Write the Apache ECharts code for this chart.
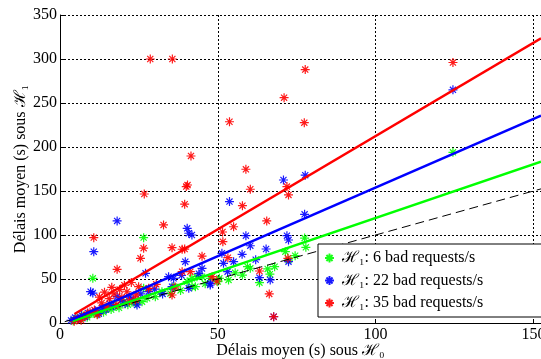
<!DOCTYPE html>
<html><head><meta charset="utf-8">
<script src="https://cdn.jsdelivr.net/npm/echarts@6/dist/echarts.min.js"></script>
<style>html,body{margin:0;padding:0;background:#fff}#c{width:541px;height:359px}</style>
</head><body><div id="c"></div>
<script>
const xTicks = [0, 50, 100, 150];
const yTicks = [0, 50, 100, 150, 200, 250, 300, 350];
const seriesNames = ['ℋ₁: 6 bad requests/s', 'ℋ₁: 22 bad requests/s', 'ℋ₁: 35 bad requests/s'];

const greenPts = [[4.2,2.5],[5.4,5.3],[6.5,4.8],[7.3,7.9],[8.6,6.4],[9.4,9.8],[10.7,11],[11.8,10.2],[12.6,13.5],[13.8,12.1],[14.9,16.7],[16.2,15.3],[17.5,18.9],[18.7,17.2],[20.2,24.2],[21.5,20.8],[22.8,23.5],[24.1,22.3],[26,24.2],[27.6,28],[30.2,29.9],[32.3,35.6],[26.5,39.4],[36,41.3],[40.3,47],[43.4,52.6],[41.8,41.3],[41.8,50.8],[42.9,41.3],[45,52.6],[47.6,50.8],[50.5,50.8],[53.4,48.9],[57.8,54.5],[59.4,64],[60.3,62.2],[63.2,45.8],[65.8,61.4],[71.4,81],[72.4,71.5],[77.5,96.5],[77.9,86],[10.4,50.8],[26.5,97],[124.5,194],[35,33.5],[38.2,37],[46,44.5],[55.5,57],[68,64],[74.5,76.5],[50,47],[66.5,55.5]];

const bluePts = [[3.5,3],[4.8,6.2],[5.9,4.5],[6.8,8.8],[7.9,6.9],[8.8,11.5],[9.7,35.6],[10.4,34],[10.7,81],[11.2,13.8],[12.3,10.6],[13.4,17.5],[14.6,15.2],[15.8,21.6],[17,19.3],[18.1,30],[18.1,116],[19.3,25.4],[20.6,22],[22,29.5],[23.2,27],[24.4,20.5],[25.6,33],[27.1,56.5],[28.1,35.6],[30,38.5],[32.5,33],[34.4,52.6],[35.5,41.3],[36,50.8],[38.5,54],[39.7,69.7],[40.3,107.6],[40.8,102],[41.8,100],[40.8,39.4],[45,62],[47.6,43.2],[47.6,45.1],[51.3,79.2],[51.8,67.8],[53.1,58.3],[53.7,138],[55,69.7],[57.7,78],[58.9,99.2],[60.3,87.8],[63.2,51.5],[65.3,84.1],[66.6,48.9],[67.7,7.2],[70.8,162.5],[71.9,99.2],[72.4,94.3],[72.4,69.7],[77.5,123.5],[77.7,168],[124.5,265],[44,56],[62,72]];

const redPts = [[4.5,2],[5.6,4.2],[6.7,3.1],[7.6,7.5],[8.5,9.6],[9.5,12.4],[10.7,97],[10.9,14.8],[11.8,9.3],[12.5,29.5],[13.2,22.8],[14.1,35],[14.8,18.2],[15.6,27.6],[16.4,40.5],[17.1,33],[18.1,61],[18,21],[18.9,38],[19.6,29.2],[20.4,43],[21.2,35.5],[22,25],[22.6,46],[23.9,26.1],[24.1,32],[24.9,41.3],[25.5,73.5],[26.5,85],[26.7,146.6],[28.1,39.4],[28.6,300],[30.5,44],[32.8,111.4],[35.5,31.8],[36.5,41],[35.5,85.6],[35.6,300],[38.7,83.8],[39.5,84],[38.7,58.3],[41.3,58.3],[39.5,135],[40.4,156.8],[40,155],[41.5,189.8],[45,75.9],[48.2,52.6],[49.7,47.7],[51.5,103.4],[51.6,92.4],[53.2,74.2],[53.7,228.7],[55,109.4],[57.8,133.3],[58.9,174.7],[60.3,152],[63.2,59.1],[65.5,116],[66.3,33],[67.7,7.2],[71,256],[71.9,155],[72.4,145.5],[72.2,73.5],[77.4,227.6],[77.7,288],[124.5,296]];

// fitted lines: [slope, intercept, startX]
const greenFit = [1.22, -2.7, 4.0];
const blueFit = [1.56, -2.0, 3.2];
const redFit = [2.12, 0.5, 4.6];
const refLine = [1.0, 0.0, 1.5];
const xMax = 152.4;

function fitLine(f) { return [[f[2], f[0]*f[2]+f[1]], [xMax, f[0]*xMax+f[1]]]; }

const FONT = "'Liberation Serif','DejaVu Serif',serif";
const STAR = 'path://M5,0L5,10M0,5L10,5M1.6,1.6L8.4,8.4M1.6,8.4L8.4,1.6';
const colors = ['#00ff00', '#0000ff', '#ff0000'];

function scatter(name, pts, c) {
  return {
    type: 'scatter', name: name, data: pts, symbol: STAR, symbolSize: 9,
    itemStyle: { color: 'rgba(0,0,0,0)', borderColor: c, borderWidth: 1.2, opacity: 0.9 },
    emphasis: { disabled: true }, z: 2
  };
}
function line(pts, c, w, dash) {
  return {
    type: 'line', data: pts, showSymbol: false, symbol: 'none', silent: true,
    lineStyle: { color: c, width: w, type: dash || 'solid' }, z: 3
  };
}

const chart = echarts.init(document.getElementById('c'), null, { renderer: 'canvas' });
chart.setOption({
  animation: false,
  backgroundColor: '#fff',
  grid: { left: 60, right: 0, top: 15, bottom: 36, outerBoundsMode: 'none', containLabel: false },
  xAxis: {
    type: 'value', min: 0, max: xMax, interval: 50,
    name: 'Délais moyen (s) sous ℋ₀', nameLocation: 'middle', nameGap: 20, nameMoveOverlap: false,
    nameTextStyle: { fontFamily: FONT, fontSize: 16, color: '#000' },
    axisLine: { lineStyle: { color: '#000', width: 1 } },
    axisTick: { inside: true, length: 4, lineStyle: { color: '#000' } },
    axisLabel: { fontFamily: FONT, fontSize: 16, color: '#000', margin: 4,
      formatter: v => xTicks.indexOf(v) >= 0 ? String(v) : '' },
    splitLine: { show: true, lineStyle: { color: '#000', width: 1, type: [2, 2] } }
  },
  yAxis: {
    type: 'value', min: 0, max: 350, interval: 50,
    name: 'Délais moyen (s) sous ℋ₁', nameLocation: 'middle', nameGap: 31, nameMoveOverlap: false,
    nameTextStyle: { fontFamily: FONT, fontSize: 16, color: '#000' },
    axisLine: { show: true, lineStyle: { color: '#000', width: 1 } },
    axisTick: { show: true, inside: true, length: 4, lineStyle: { color: '#000' } },
    axisLabel: { fontFamily: FONT, fontSize: 16, color: '#000', margin: 3,
      formatter: v => yTicks.indexOf(v) >= 0 ? String(v) : '' },
    splitLine: { show: true, lineStyle: { color: '#000', width: 1, type: [2, 2] } }
  },
  legend: {
    data: seriesNames, orient: 'vertical', left: 318, top: 244,
    itemWidth: 9, itemHeight: 9, itemGap: 4.5,
    padding: [5, 80, 5, 6],
    backgroundColor: '#fff', borderColor: '#000', borderWidth: 1, borderRadius: 0,
    textStyle: { fontFamily: FONT, fontSize: 16, color: '#000', lineHeight: 18, padding: [0, 0, 0, 3] },
    selectedMode: false
  },
  series: [
    scatter(seriesNames[0], greenPts, colors[0]),
    scatter(seriesNames[1], bluePts, colors[1]),
    scatter(seriesNames[2], redPts, colors[2]),
    line(fitLine(refLine), '#000', 1, [9, 5]),
    line(fitLine(greenFit), colors[0], 2.5),
    line(fitLine(blueFit), colors[1], 2.5),
    line(fitLine(redFit), colors[2], 2.5)
  ]
});
</script></body></html>
